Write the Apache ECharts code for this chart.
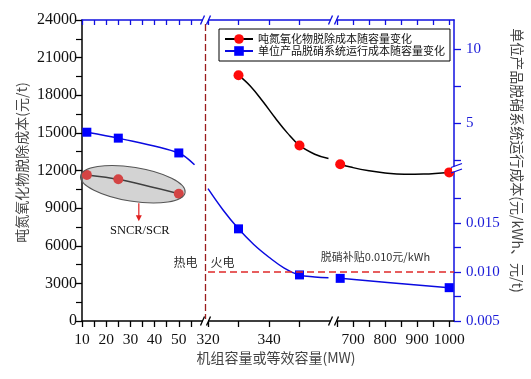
<!DOCTYPE html>
<html><head><meta charset="utf-8">
<script src="https://cdn.jsdelivr.net/npm/echarts@6/dist/echarts.min.js"></script>
<style>html,body{margin:0;padding:0;background:#fff}#c{width:531px;height:379px}</style>
</head><body><div id="c"></div>
<script>
// ---------------- data ----------------
const redName = '吨氮氧化物脱除成本随容量变化';
const blueName = '单位产品脱硝系统运行成本随容量变化';

const xTickValues = [10,15,20,25,30,35,40,45,50,55,320,330,340,350,650,700,750,800,850,900,950,1000];
const xTickLabels = [10,20,30,40,50,320,340,700,800,900,1000];
const rightTickValues = [0.005,0.0075,0.010,0.0125,0.015,0.0175,2.5,5,7.5,10];
const rightLabelValues = [0.005,0.010,0.015,5,10];
const rightLabelTexts = ['0.005','0.010','0.015','5','10'];

const redMarkX = [12,25,50,330,350,660,1000];
const redSeg1X = [12,25,50];
const redSeg1Y = [11650,11300,10150];
const redSeg2X = [330,334,338,342,346,350,355,359.5];
const redSeg2Y = [19600,18700,17500,16200,15000,14000,13300,12950];
const redSeg3X = [650,660,700,750,800,860,920,1000];
const redSeg3Y = [12680,12500,12230,11980,11800,11700,11720,11850];

const blueMarkX = [12,25,50,330,350,660,1000];
const blueSeg1X = [12,25,50,56.5];
const blueSeg1Y = [4.4,4.0,3.0,2.2];
const blueSeg2X = [320,325,330,335,340,345,350,355,359.5];
const blueSeg2Y = [0.0185,0.0163,0.0144,0.0128,0.0115,0.0104,0.0097,0.0095,0.0094];
const blueSeg3X = [650,660,1000];
const blueSeg3Y = [0.0094,0.00935,0.0084];

const subsidy = 0.010;
const subsidyText = '脱硝补贴0.010元/kWh';

// ------------- broken-axis scales (layout) -------------
const X_SEGS = [
  {d0:10,  d1:60,   p0:0,   p1:121},
  {d0:320, d1:360,  p0:126, p1:248},
  {d0:650, d1:1015, p0:255, p1:372}
];
const X_BREAKS = [(121+126)/2, (248+255)/2];
const Y_SEGS = [
  {d0:0.005, d1:0.0203, p0:0,   p1:150},
  {d0:2.05,  d1:12.2,   p0:154, p1:154+10.15*14.8}
];
const Y_BREAK = 152;
function mapSeg(segs, v){
  for (const s of segs) if (v >= s.d0-1e-9 && v <= s.d1+1e-9) return s.p0+(v-s.d0)*(s.p1-s.p0)/(s.d1-s.d0);
  return NaN;
}
const fx = v => mapSeg(X_SEGS, v);
const fy = v => mapSeg(Y_SEGS, v);

const key = v => v.toFixed(3);
const xLabelMap = {}; xTickLabels.forEach(v => xLabelMap[key(fx(v))] = String(v));
const yLabelMap = {}; rightLabelValues.forEach((v,i) => yLabelMap[key(fy(v))] = rightLabelTexts[i]);

function seg(xs, ys, marks, f){
  return xs.map((x,i)=>{
    const it = {value:[fx(x), f(ys[i])]};
    if (!marks.includes(x)) it.symbol = 'none';
    return it;
  });
}
const idf = v => v;

const serif = 'Liberation Serif';
const cjk = 'Noto Sans CJK SC';

const redBase = {type:'line', name:redName, xAxisIndex:0, yAxisIndex:0, symbol:'circle', symbolSize:10,
  itemStyle:{color:'#ff0a0a'}, lineStyle:{color:'#000', width:1.5}, z:3, clip:false};
const blueBase = {type:'line', name:blueName, xAxisIndex:0, yAxisIndex:1, symbol:'rect', symbolSize:9,
  itemStyle:{color:'#0000ff'}, lineStyle:{color:'#0a0ae0', width:1.5}, z:3, clip:false};

const option = {
  animation:false,
  grid:{left:82, right:77, top:20, bottom:58},
  legend:{
    left:219, top:29, orient:'vertical', itemWidth:28, itemHeight:12, itemGap:0,
    padding:[4,5,4,5], borderColor:'#000', borderWidth:1, backgroundColor:'#fff',
    textStyle:{fontFamily:cjk, fontSize:11, color:'#111', lineHeight:12},
    data:[redName, blueName]
  },
  xAxis:[
    {type:'value', position:'bottom', min:0, max:372,
     axisLine:{onZero:false, lineStyle:{color:'#000', width:1.5}},
     axisTick:{customValues:xTickValues.map(fx), length:6, lineStyle:{color:'#000', width:1.3}},
     axisLabel:{customValues:xTickLabels.map(fx), formatter:v=>xLabelMap[key(v)]||'', fontFamily:serif, fontSize:15.5, color:'#111', margin:11},
     splitLine:{show:false}},
    {type:'value', position:'top', min:0, max:372,
     axisLine:{onZero:false, lineStyle:{color:'#1010e0', width:1.5}},
     axisTick:{customValues:xTickValues.map(fx), inside:true, length:5, lineStyle:{color:'#1010e0', width:1.3}},
     axisLabel:{show:false}, splitLine:{show:false}}
  ],
  yAxis:[
    {type:'value', position:'left', min:0, max:24000, interval:3000,
     axisLine:{show:true, onZero:false, lineStyle:{color:'#000', width:1.5}},
     axisTick:{show:true, length:7, lineStyle:{color:'#000', width:1.3}},
     minorTick:{show:true, splitNumber:2, length:6, lineStyle:{color:'#000', width:1.2}},
     axisLabel:{formatter:v=>String(v), fontFamily:serif, fontSize:16, color:'#111', margin:5},
     splitLine:{show:false}},
    {type:'value', position:'right', min:0, max:301,
     axisLine:{show:true, onZero:false, lineStyle:{color:'#1010e0', width:1.5}},
     axisTick:{show:true, customValues:rightTickValues.map(fy), length:7, lineStyle:{color:'#1010e0', width:1.3}},
     axisLabel:{customValues:rightLabelValues.map(fy), formatter:v=>yLabelMap[key(v)]||'', fontFamily:serif, fontSize:15, color:'#1a1ad8', margin:12},
     splitLine:{show:false}}
  ],
  series:[
    Object.assign({}, redBase, {data:seg(redSeg1X, redSeg1Y, redMarkX, idf), smooth:0.3,
      markLine:{silent:true, symbol:'none', label:{show:false},
        lineStyle:{color:'#9b1c1c', type:[7,3], width:1.3},
        data:[{xAxis:X_BREAKS[0]}]}}),
    Object.assign({}, blueBase, {data:seg(blueSeg1X, blueSeg1Y, blueMarkX, fy), smooth:0.3}),
    Object.assign({}, redBase, {data:seg(redSeg2X, redSeg2Y, redMarkX, idf), smooth:0.4}),
    Object.assign({}, redBase, {data:seg(redSeg3X, redSeg3Y, redMarkX, idf), smooth:0.4}),
    Object.assign({}, blueBase, {data:seg(blueSeg2X, blueSeg2Y, blueMarkX, fy), smooth:0.4,
      markLine:{silent:true, symbol:'none', label:{show:false},
        lineStyle:{color:'#e02828', type:[7,4], width:1.5},
        data:[[{coord:[fx(320), fy(subsidy)]},{coord:[372, fy(subsidy)]}]]}}),
    Object.assign({}, blueBase, {data:seg(blueSeg3X, blueSeg3Y, blueMarkX, fy), smooth:0.3})
  ]
};

const chart = echarts.init(document.getElementById('c'));
chart.setOption(option);

// ------------- annotations -------------
const px = v => chart.convertToPixel({xAxisIndex:0}, v);
const pyL = v => chart.convertToPixel({yAxisIndex:0}, v);
const pyR = v => chart.convertToPixel({yAxisIndex:1}, v);
const gTop = pyL(24000), gBot = pyL(0), gLeft = px(0), gRight = px(372);

function hBreak(cx, cy, color){
  return [
    {type:'rect', shape:{x:cx-2.5, y:cy-2, width:5, height:4}, style:{fill:'#fff'}, z:200},
    {type:'line', shape:{x1:cx-5, y1:cy+4.5, x2:cx-1, y2:cy-4.5}, style:{stroke:color, lineWidth:1.3}, z:201},
    {type:'line', shape:{x1:cx+1, y1:cy+4.5, x2:cx+5, y2:cy-4.5}, style:{stroke:color, lineWidth:1.3}, z:201}
  ];
}
function vBreak(cx, cy, color){
  return [
    {type:'rect', shape:{x:cx-2, y:cy-2.5, width:4, height:5}, style:{fill:'#fff'}, z:200},
    {type:'line', shape:{x1:cx-3, y1:cy-1.5, x2:cx+8, y2:cy-5.5}, style:{stroke:color, lineWidth:1.3}, z:201},
    {type:'line', shape:{x1:cx-3, y1:cy+4, x2:cx+8, y2:cy}, style:{stroke:color, lineWidth:1.3}, z:201}
  ];
}

const els = [];
X_BREAKS.forEach(b => {
  els.push(...hBreak(px(b), gBot, '#000'));
  els.push(...hBreak(px(b), gTop, '#1010e0'));
});
els.push(...vBreak(gRight, pyR(Y_BREAK), '#1010e0'));

// ellipse around the SNCR/SCR points
const pA = chart.convertToPixel({xAxisIndex:0, yAxisIndex:0}, [fx(redSeg1X[0]), redSeg1Y[0]]);
const pB = chart.convertToPixel({xAxisIndex:0, yAxisIndex:0}, [fx(redSeg1X[redSeg1X.length-1]), redSeg1Y[redSeg1Y.length-1]]);
const ec = [(pA[0]+pB[0])/2, (pA[1]+pB[1])/2];
const ang = Math.atan2(pB[1]-pA[1], pB[0]-pA[0]);
const rx = Math.hypot(pB[0]-pA[0], pB[1]-pA[1])/2 + 6, ry = 17;
els.push({type:'ellipse', x:ec[0], y:ec[1], rotation:-ang*0.78, shape:{cx:0, cy:0, rx:rx, ry:ry},
  style:{fill:'rgba(150,150,150,0.42)', stroke:'#555', lineWidth:1}, z:150});
const ax = ec[0]+6, ay0 = ec[1]+ry+2, ay1 = ec[1]+ry+20;
els.push({type:'line', shape:{x1:ax, y1:ay0, x2:ax, y2:ay1-4}, style:{stroke:'#e02020', lineWidth:1.2}, z:150});
els.push({type:'polygon', shape:{points:[[ax-3, ay1-6],[ax+3, ay1-6],[ax, ay1]]}, style:{fill:'#e02020'}, z:150});
els.push({type:'text', x:ax+1, y:ay1+9, style:{text:'SNCR/SCR', font:'12.5px "Liberation Serif"', fill:'#111', align:'center', verticalAlign:'middle'}, z:150});

// 热电 / 火电 / subsidy label
const bx = px(X_BREAKS[0]), sy = pyR(fy(subsidy));
els.push({type:'text', x:bx-20, y:sy-10, style:{text:'热电', font:'12px "Noto Sans CJK SC"', fill:'#333', align:'center', verticalAlign:'middle'}, z:150});
els.push({type:'text', x:bx+17, y:sy-10, style:{text:'火电', font:'12px "Noto Sans CJK SC"', fill:'#333', align:'center', verticalAlign:'middle'}, z:150});
els.push({type:'text', x:px(fx(770)), y:sy-15, style:{text:subsidyText, font:'11px "Noto Sans CJK SC"', fill:'#333', align:'center', verticalAlign:'middle'}, z:150});

// axis titles
els.push({type:'text', x:22, y:(gTop+gBot)/2-8, rotation:Math.PI/2, style:{text:'吨氮氧化物脱除成本(元/t)', font:'14px "Noto Sans CJK SC"', fill:'#444', align:'center', verticalAlign:'middle'}});
els.push({type:'text', x:517, y:(gTop+gBot)/2-10, rotation:-Math.PI/2, style:{text:'单位产品脱硝系统运行成本(元/kWh、元/t)', font:'14px "Noto Sans CJK SC"', fill:'#444', align:'center', verticalAlign:'middle'}});
els.push({type:'text', x:(gLeft+gRight)/2+8, y:358, style:{text:'机组容量或等效容量(MW)', font:'14px "Noto Sans CJK SC"', fill:'#444', align:'center', verticalAlign:'middle'}});

chart.setOption({graphic:{elements:els}});
</script>
</body></html>
